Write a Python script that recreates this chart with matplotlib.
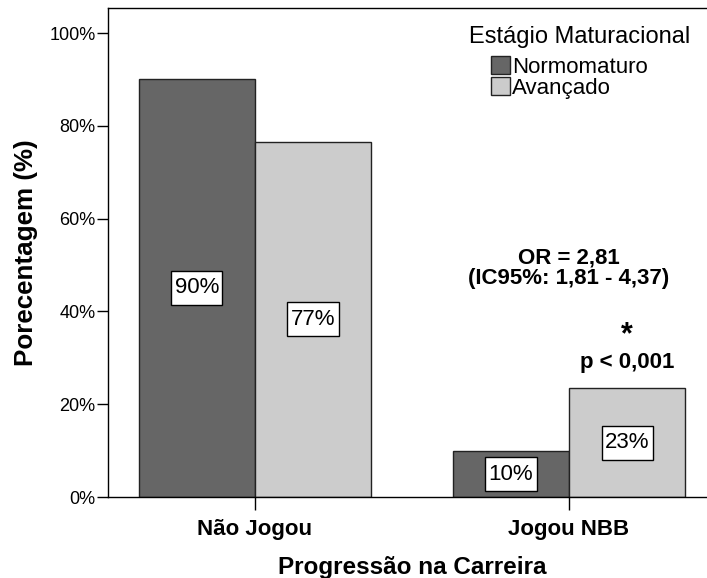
import matplotlib
matplotlib.use("Agg")
import matplotlib.pyplot as plt
from matplotlib.patches import Patch
from matplotlib.path import Path

plt.rcParams['font.family'] = ['Liberation Sans', 'DejaVu Sans']

# Data
categories = ["Não Jogou", "Jogou NBB"]
series_names = ["Normomaturo", "Avançado"]
normomaturo = [90.1, 9.9]
avancado = [76.6, 23.4]
y_ticks = [0, 20, 40, 60, 80, 100]
y_tick_labels = ["0%", "20%", "40%", "60%", "80%", "100%"]

colors = ["#666666", "#cccccc"]


def label_box(x0, y0, width, height, mutation_size):
    """Rectangular box with separate horizontal and vertical padding."""
    px = 0.15 * mutation_size
    py = 0.30 * mutation_size
    x0, y0 = x0 - px, y0 - py
    x1, y1 = x0 + width + 2 * px, y0 + height + 2 * py
    return Path([(x0, y0), (x1, y0), (x1, y1), (x0, y1), (x0, y0)],
                closed=True)


W, H = 707, 578
fig = plt.figure(figsize=(W / 100, H / 100), dpi=100)
ax = fig.add_axes([108 / W, 81 / H, 608 / W, 489 / H])

bar_w = 0.37
xs = list(range(len(categories)))
for i, (vals, col) in enumerate(zip([normomaturo, avancado], colors)):
    offset = (i - 0.5) * bar_w
    pos = [x + offset for x in xs]
    bars = ax.bar(pos, vals, width=bar_w, color=col, edgecolor="#222222",
                  linewidth=1.0, zorder=2)
    for b, v in zip(bars, vals):
        ax.text(b.get_x() + b.get_width() / 2, v / 2, f"{round(v):d}%",
                ha="center", va="center", fontsize=16, zorder=3,
                bbox=dict(boxstyle=label_box, fc="white",
                          ec="black", lw=1.0))

ax.set_xlim(-0.468, 1.468)
ax.set_ylim(0, 105.4)

ax.set_yticks(y_ticks)
ax.set_yticklabels(y_tick_labels, fontsize=13)
ax.set_xticks(xs)
ax.set_xticklabels(categories, fontsize=16, fontweight="bold")
ax.tick_params(axis="y", length=8, width=1, pad=1)
ax.tick_params(axis="x", length=9.5, width=1, pad=6)

for s in ["left", "top", "bottom", "right"]:
    ax.spines[s].set_linewidth(1.0)
    ax.spines[s].set_color("black")

ax.set_ylabel("Porecentagem (%)", fontsize=18.7, fontweight="bold",
              labelpad=8)
ax.set_xlabel("Progressão na Carreira", fontsize=17.5, fontweight="bold",
              labelpad=12)

# Annotations for the second category
x2 = xs[1]
ax.text(x2, 45.9, "OR = 2,81\n(IC95%: 1,81 - 4,37)", ha="center",
        va="baseline", multialignment="center", linespacing=1.0,
        fontsize=16, fontweight="bold")
ax.text(x2 + bar_w / 2, 34.8, "*", ha="center", va="center", fontsize=22,
        fontweight="bold")
ax.text(x2 + bar_w / 2, 27.8, "p < 0,001", ha="center", va="baseline",
        fontsize=16, fontweight="bold")

# Legend
fig.text(469 / W, 1 - 42.7 / H, "Estágio Maturacional", fontsize=17,
         ha="left", va="baseline")
handles = [Patch(facecolor=c, edgecolor="#222222", linewidth=1.0)
           for c in colors]
fig.legend(handles, series_names, loc="upper left",
           bbox_to_anchor=(491 / W, 1 - 56 / H), bbox_transform=fig.transFigure,
           frameon=False, fontsize=16, borderpad=0, borderaxespad=0,
           handlelength=0.86, handleheight=0.9, handletextpad=0.1,
           labelspacing=-0.05)

fig.savefig("out.png", dpi=100)
